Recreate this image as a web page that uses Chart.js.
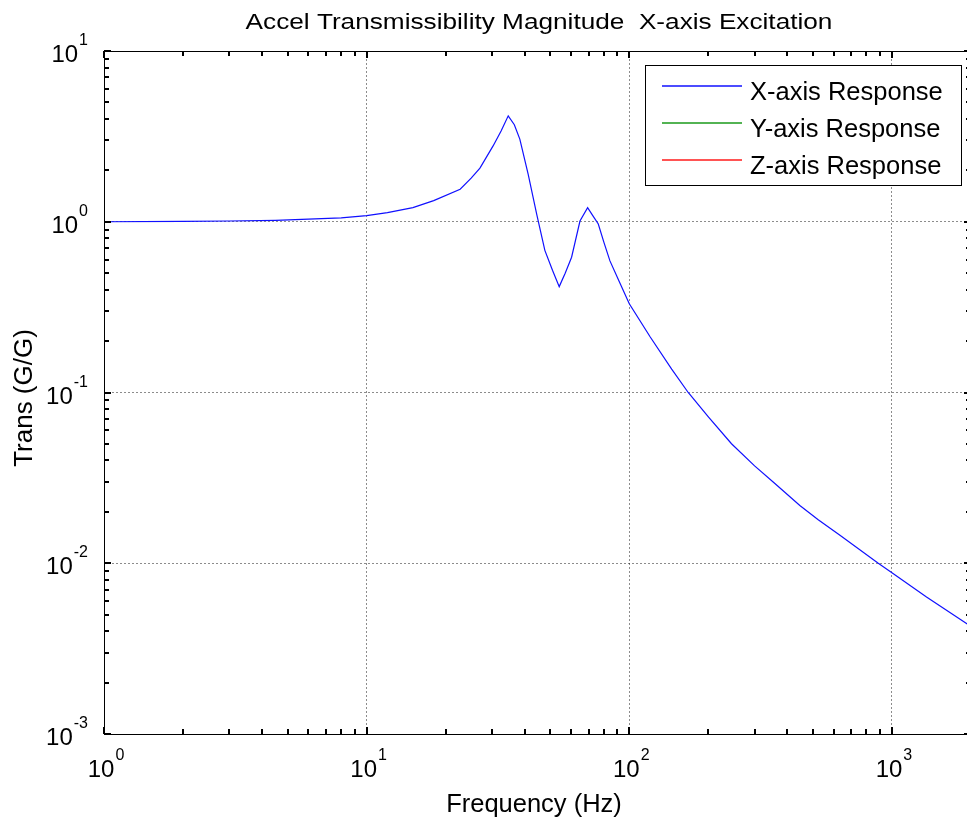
<!DOCTYPE html>
<html>
<head>
<meta charset="utf-8">
<title>Accel Transmissibility Magnitude</title>
<script src="https://cdn.jsdelivr.net/npm/chart.js@4.4.1/dist/chart.umd.min.js"></script>
<style>
    html, body { margin: 0; padding: 0; background: #fff; overflow: hidden; }
    canvas { display: block; }
</style>
</head>
<body>
<canvas id="transChart" width="975" height="821"></canvas>
<script>
// Frequency points (Hz) and X-axis response magnitude (G/G)
const freqHz = [1, 2, 3, 4.5, 6, 8, 10, 12, 15, 18, 22.7, 25, 27, 30.3, 32.5, 34.6, 36.5, 38.3, 41.2, 44.4,
    47.7, 51, 54.1, 57, 60.3, 64.9, 69.4, 72.5, 76.2, 80, 84.4, 92, 100, 120, 145, 167.6, 200, 245,
    300, 353, 446, 524, 634, 887, 1000, 1354, 1923, 2000];
const xResponse = [1.0, 1.004, 1.01, 1.02, 1.035, 1.055, 1.085, 1.13, 1.21, 1.33, 1.55, 1.8, 2.06, 2.78, 3.4, 4.17, 3.7, 3.05, 1.9, 1.11,
    0.68, 0.52, 0.417, 0.5, 0.62, 1.01, 1.21, 1.09, 0.97, 0.76, 0.59, 0.44, 0.331, 0.212, 0.137, 0.1, 0.072, 0.0501,
    0.0372, 0.0299, 0.0218, 0.018, 0.0146, 0.01, 0.0088, 0.00635, 0.00444, 0.00425];
// Y and Z responses are in the legend but not drawn in the picture
const yResponse = [];
const zResponse = [];

const seriesLabels = ['X-axis Response', 'Y-axis Response', 'Z-axis Response'];
const seriesColors = ['#1010ff', '#1a9a1a', '#ff1a1a'];

const xTicks = [1, 10, 100, 1000];
const yTicks = [0.001, 0.01, 0.1, 1, 10];

const FONT = '"Liberation Sans", Arial, sans-serif';

function toPoints(ys) {
    return ys.map((y, i) => ({ x: freqHz[i], y: y }));
}

// draw text, optionally stretched horizontally
function drawText(ctx, text, x, y, size, align, sx) {
    ctx.save();
    ctx.font = size + 'px ' + FONT;
    ctx.fillStyle = '#000';
    ctx.textBaseline = 'alphabetic';
    ctx.translate(x, y);
    ctx.scale(sx || 1, 1);
    ctx.textAlign = align;
    ctx.fillText(text, 0, 0);
    ctx.restore();
}

// "10" with a raised exponent
function drawPower(ctx, exp, x, baseY, align) {
    ctx.save();
    ctx.fillStyle = '#000';
    ctx.textBaseline = 'alphabetic';
    ctx.font = '24px ' + FONT;
    const wBase = ctx.measureText('10').width;
    ctx.font = '16px ' + FONT;
    const wExp = ctx.measureText(String(exp)).width + 1;
    const total = wBase + wExp;
    let left = x;
    if (align === 'center') left = x - total / 2;
    if (align === 'right') left = x - total;
    ctx.textAlign = 'left';
    ctx.font = '24px ' + FONT;
    ctx.fillText('10', left, baseY);
    ctx.font = '16px ' + FONT;
    ctx.fillText(String(exp), left + wBase + 1, baseY - 17);
    ctx.restore();
}

const matlabAxes = {
    id: 'matlabAxes',
    afterDraw(chart) {
        const ctx = chart.ctx;
        const area = chart.chartArea;
        const xs = chart.scales.x;
        const ys = chart.scales.y;

        // axes box
        ctx.save();
        ctx.strokeStyle = '#000';
        ctx.lineWidth = 1;
        ctx.strokeRect(Math.round(area.left) + 0.5, Math.round(area.top) + 0.5,
            Math.round(area.right - area.left), Math.round(area.bottom - area.top));
        ctx.restore();

        // inward ticks, minor at 2..9 and major at decades
        ctx.save();
        ctx.strokeStyle = '#000';
        ctx.lineWidth = 2;
        ctx.beginPath();
        for (let d = Math.floor(Math.log10(xs.min)); d <= Math.ceil(Math.log10(xs.max)); d++) {
            for (let k = 1; k <= 9; k++) {
                const v = k * Math.pow(10, d);
                if (v < xs.min || v > xs.max) continue;
                const px = Math.round(xs.getPixelForValue(v));
                const len = k === 1 ? 7 : 5;
                ctx.moveTo(px, area.bottom);
                ctx.lineTo(px, area.bottom - len);
                ctx.moveTo(px, area.top);
                ctx.lineTo(px, area.top + len);
            }
        }
        for (let d = Math.floor(Math.log10(ys.min)); d <= Math.ceil(Math.log10(ys.max)); d++) {
            for (let k = 1; k <= 9; k++) {
                const v = k * Math.pow(10, d);
                if (v < ys.min * 0.999 || v > ys.max * 1.001) continue;
                const py = Math.round(ys.getPixelForValue(v));
                const len = k === 1 ? 7 : 5;
                ctx.moveTo(area.left, py);
                ctx.lineTo(area.left + len, py);
                ctx.moveTo(area.right, py);
                ctx.lineTo(area.right - len, py);
            }
        }
        ctx.stroke();
        ctx.restore();

        // tick labels
        xTicks.forEach(v => {
            drawPower(ctx, Math.round(Math.log10(v)), xs.getPixelForValue(v) + 2, 777, 'center');
        });
        yTicks.forEach(v => {
            drawPower(ctx, Math.round(Math.log10(v)), area.left - 16, ys.getPixelForValue(v) + 11, 'right');
        });

        // title and axis labels
        drawText(ctx, 'Accel Transmissibility Magnitude  X-axis Excitation', 539, 29, 22, 'center', 1.19);
        drawText(ctx, 'Frequency (Hz)', 534, 812, 25.5, 'center', 1);
        ctx.save();
        ctx.translate(32, 398);
        ctx.rotate(-Math.PI / 2);
        drawText(ctx, 'Trans (G/G)', 0, 0, 26, 'center', 1);
        ctx.restore();

        // legend box inside the axes
        const lg = { left: 645.5, top: 65.5, right: 961.5, bottom: 185.5 };
        ctx.save();
        ctx.fillStyle = '#fff';
        ctx.fillRect(lg.left, lg.top, lg.right - lg.left, lg.bottom - lg.top);
        ctx.strokeStyle = '#000';
        ctx.lineWidth = 1;
        ctx.strokeRect(lg.left, lg.top, lg.right - lg.left, lg.bottom - lg.top);
        chart.data.datasets.forEach((ds, i) => {
            const y = 86 + i * 37;
            ctx.strokeStyle = ds.borderColor;
            ctx.lineWidth = 1.5;
            ctx.beginPath();
            ctx.moveTo(662, y);
            ctx.lineTo(742, y);
            ctx.stroke();
            drawText(ctx, ds.label, 750, y + 13.5, 25.5, 'left', 1);
        });
        ctx.restore();
    }
};

new Chart(document.getElementById('transChart').getContext('2d'), {
    type: 'line',
    data: {
        datasets: [
            { label: seriesLabels[0], data: toPoints(xResponse), borderColor: seriesColors[0] },
            { label: seriesLabels[1], data: toPoints(yResponse), borderColor: seriesColors[1] },
            { label: seriesLabels[2], data: toPoints(zResponse), borderColor: seriesColors[2] }
        ]
    },
    options: {
        responsive: false,
        animation: false,
        parsing: false,
        layout: { padding: { left: 104, right: 4, top: 51, bottom: 87 } },
        elements: {
            line: { borderWidth: 1.2, tension: 0 },
            point: { radius: 0 }
        },
        plugins: {
            legend: { display: false },
            title: { display: false },
            tooltip: { enabled: false }
        },
        scales: {
            x: {
                type: 'logarithmic',
                min: 1,
                max: 2000,
                afterBuildTicks: s => { s.ticks = xTicks.map(v => ({ value: v })); },
                afterFit: s => { s.height = 0; },
                ticks: { display: false },
                grid: { color: 'rgba(0,0,0,0.45)', drawTicks: false },
                border: { display: false, dash: [2, 2] }
            },
            y: {
                type: 'logarithmic',
                min: 0.001,
                max: 10,
                afterBuildTicks: s => { s.ticks = yTicks.map(v => ({ value: v })); },
                afterFit: s => { s.width = 0; },
                ticks: { display: false },
                grid: { color: 'rgba(0,0,0,0.45)', drawTicks: false },
                border: { display: false, dash: [2, 2] }
            }
        }
    },
    plugins: [matlabAxes]
});
</script>
</body>
</html>
